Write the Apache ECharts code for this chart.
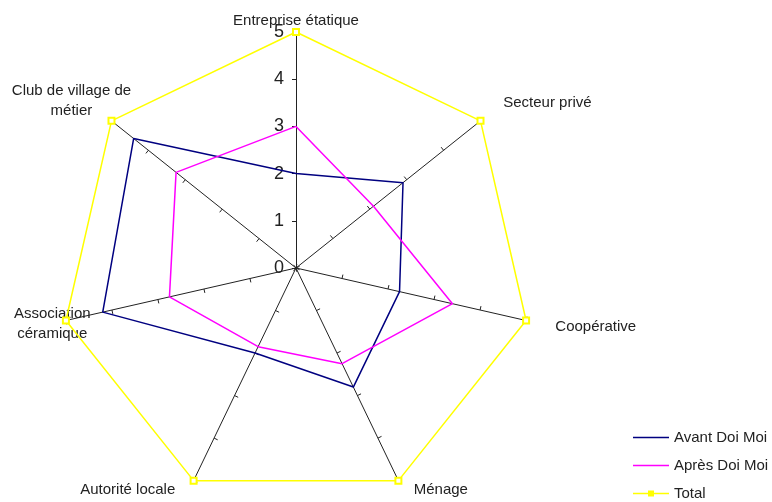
<!DOCTYPE html>
<html lang="fr">
<head>
<meta charset="UTF-8">
<title>Radar Doi Moi</title>
<script src="https://cdn.jsdelivr.net/npm/echarts@6/dist/echarts.min.js"></script>
<style>
    html, body { margin: 0; background: #fff; }
    #main { width: 772px; height: 502px; }
</style>
</head>
<body>
<div id="main"></div>
<script>
    // catégories dans l'ordre du graphique (sens horaire depuis le haut)
    var categories = ['Entreprise étatique', 'Secteur privé', 'Coopérative', 'Ménage',
        'Autorité locale', 'Association\ncéramique', 'Club de village de\nmétier'];
    var avantDoiMoi = [2, 2.9, 2.25, 2.8, 2, 4.2, 4.4];
    var apresDoiMoi = [3, 2.1, 3.4, 2.25, 1.85, 2.75, 3.25];
    var total = [5, 5, 5, 5, 5, 5, 5];
    var seriesNames = ['Avant Doi Moi', 'Après Doi Moi', 'Total'];
    var axisMax = 5;

    // placement des noms d'axes
    var nameGaps = [11, 29, 30, 10, 10, 14, 64];
    var nameStyles = [
        {align: 'center', verticalAlign: 'middle'},
        {align: 'left', verticalAlign: 'middle'},
        {align: 'left', verticalAlign: 'middle'},
        {align: 'left', verticalAlign: 'middle', padding: [0, 0, 0, 11]},
        {align: 'right', verticalAlign: 'middle', padding: [0, 14, 0, 0]},
        {align: 'center', verticalAlign: 'middle'},
        {align: 'center', verticalAlign: 'top', padding: [0, 0, 0, 20]}
    ];

    // echarts tourne dans le sens anti-horaire -> on réordonne
    var order = [0, 6, 5, 4, 3, 2, 1];
    function reorder(arr) {
        return order.map(function (i) { return arr[i]; });
    }

    var font = 'Liberation Sans, Arial, sans-serif';
    var chart = echarts.init(document.getElementById('main'));

    var lineIcon = 'path://M0,0 M36,8 M0,3.3 L36,3.3 L36,4.7 L0,4.7 Z';
    var totalIcon = 'path://M0,0 M36,8 M0,3.3 L15,3.3 L15,1 L21,1 L21,3.3 L36,3.3 L36,4.7 L21,4.7 L21,7 L15,7 L15,4.7 L0,4.7 Z';

    var option = {
        backgroundColor: '#fff',
        animation: false,
        legend: {
            orient: 'vertical',
            left: 633,
            top: 430,
            height: 90,
            padding: 0,
            itemWidth: 36,
            itemHeight: 8,
            itemGap: 13,
            textStyle: {fontSize: 15, color: '#222', fontFamily: font},
            data: [
                {name: seriesNames[0], icon: lineIcon},
                {name: seriesNames[1], icon: lineIcon},
                {name: seriesNames[2], icon: totalIcon}
            ]
        },
        radar: {
            center: [296, 268],
            radius: 236,
            startAngle: 90,
            splitNumber: 5,
            shape: 'polygon',
            axisName: {color: '#222', fontSize: 15, fontFamily: font, lineHeight: 20},
            axisLine: {lineStyle: {color: '#222', width: 1}},
            axisTick: {show: true, length: 4, lineStyle: {color: '#222'}},
            axisLabel: {show: false, fontSize: 18, color: '#222', margin: 12, fontFamily: font},
            splitLine: {show: false},
            splitArea: {show: false},
            indicator: order.map(function (i) {
                return {
                    name: categories[i],
                    min: 0,
                    max: axisMax,
                    nameGap: nameGaps[i],
                    nameMoveOverlap: false,
                    nameTextStyle: nameStyles[i],
                    axisLabel: {show: i === 0}
                };
            })
        },
        series: [
            {
                name: seriesNames[0],
                type: 'radar',
                symbol: 'none',
                itemStyle: {color: '#000080'},
                lineStyle: {color: '#000080', width: 1.5},
                data: [{value: reorder(avantDoiMoi), name: seriesNames[0]}]
            },
            {
                name: seriesNames[1],
                type: 'radar',
                symbol: 'none',
                itemStyle: {color: '#ff00ff'},
                lineStyle: {color: '#ff00ff', width: 1.5},
                data: [{value: reorder(apresDoiMoi), name: seriesNames[1]}]
            },
            {
                name: seriesNames[2],
                type: 'radar',
                symbol: 'emptyRect',
                symbolSize: 6,
                itemStyle: {color: '#ffff00', borderColor: '#e6e600'},
                lineStyle: {color: '#ffff00', width: 1.5},
                data: [{value: reorder(total), name: seriesNames[2]}]
            }
        ]
    };
    chart.setOption(option);
</script>
</body>
</html>
